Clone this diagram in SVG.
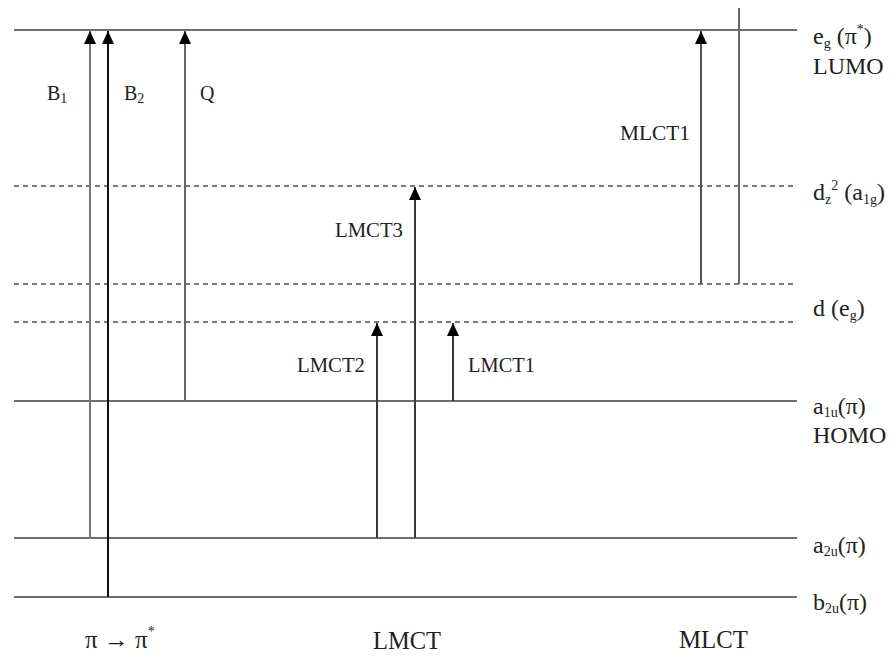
<svg xmlns="http://www.w3.org/2000/svg" width="895" height="657" viewBox="0 0 895 657">
<style>
text{font-family:"Liberation Serif","Times New Roman",serif;fill:#222}
.lvl{stroke:#6e6e6e;stroke-width:2;fill:none}
.dash{stroke:#7a7a7a;stroke-width:2;stroke-dasharray:5 4;fill:none}
.arr{stroke:#3a3a3a;stroke-width:2;fill:none;marker-end:url(#ah)}
.sm{font-size:20px}
.rt{font-size:24px}
.bt{font-size:25px}
.sub{font-size:14px}
</style>
<defs>
<marker id="ah" markerWidth="13" markerHeight="12" refX="13" refY="6" orient="auto" markerUnits="userSpaceOnUse" viewBox="0 0 13 12">
<path d="M0,0 L13,6 L0,12 Z" fill="#000"/>
</marker>
</defs>
<rect width="895" height="657" fill="#fff"/>
<g id="levels">
<line class="lvl" x1="14" y1="30" x2="797" y2="30"/>
<line class="dash" x1="14" y1="186" x2="797" y2="186"/>
<line class="dash" x1="14" y1="284" x2="797" y2="284"/>
<line class="dash" x1="14" y1="322" x2="797" y2="322"/>
<line class="lvl" x1="14" y1="401" x2="797" y2="401"/>
<line class="lvl" x1="14" y1="538" x2="797" y2="538"/>
<line class="lvl" x1="14" y1="597" x2="797" y2="597"/>
</g>
<g id="connectors">
<line class="arr" x1="90" y1="538" x2="90" y2="31" style="stroke:#777"/>
<line class="arr" x1="108" y1="597" x2="108" y2="31" style="stroke:#111"/>
<line class="arr" x1="185" y1="401" x2="185" y2="31" style="stroke:#666"/>
<line class="arr" x1="377" y1="538" x2="377" y2="323"/>
<line class="arr" x1="415" y1="538" x2="415" y2="187"/>
<line class="arr" x1="453" y1="401" x2="453" y2="323"/>
<line class="arr" x1="701" y1="284" x2="701" y2="31" style="stroke:#555"/>
<line x1="739" y1="8" x2="739" y2="284" style="stroke:#666;stroke-width:2"/>
</g>
<g id="transition-labels">
<text class="sm" x="47" y="100">B<tspan class="sub" dy="3">1</tspan></text>
<text class="sm" x="124" y="100">B<tspan class="sub" dy="3">2</tspan></text>
<text class="sm" x="200" y="100">Q</text>
<text class="sm" x="620" y="140" textLength="70" lengthAdjust="spacingAndGlyphs">MLCT1</text>
<text class="sm" x="335" y="237" textLength="68" lengthAdjust="spacingAndGlyphs">LMCT3</text>
<text class="sm" x="297" y="372" textLength="68" lengthAdjust="spacingAndGlyphs">LMCT2</text>
<text class="sm" x="468" y="372" textLength="67" lengthAdjust="spacingAndGlyphs">LMCT1</text>
</g>
<g id="level-labels">
<text class="rt" x="813" y="44">e<tspan class="sub" dy="4">g</tspan><tspan dy="-4"> (π</tspan><tspan class="sub" dy="-10">*</tspan><tspan dy="10">)</tspan></text>
<text class="rt" x="813" y="74">LUMO</text>
<text class="rt" x="813" y="200">d<tspan class="sub" dy="4">z</tspan><tspan class="sub" dy="-14">2</tspan><tspan dy="10"> (a</tspan><tspan class="sub" dy="4">1g</tspan><tspan dy="-4">)</tspan></text>
<text class="rt" x="813" y="316">d (e<tspan class="sub" dy="4">g</tspan><tspan dy="-4">)</tspan></text>
<text class="rt" x="813" y="414">a<tspan class="sub" dy="3">1u</tspan><tspan dy="-3">(π)</tspan></text>
<text class="rt" x="813" y="443">HOMO</text>
<text class="rt" x="813" y="553">a<tspan class="sub" dy="3">2u</tspan><tspan dy="-3">(π)</tspan></text>
<text class="rt" x="813" y="610">b<tspan class="sub" dy="3">2u</tspan><tspan dy="-3">(π)</tspan></text>
</g>
<g id="category-labels">
<text class="bt" x="85" y="648">π → π<tspan class="sub" dy="-12">*</tspan></text>
<text class="bt" x="373" y="649" textLength="68" lengthAdjust="spacingAndGlyphs">LMCT</text>
<text class="bt" x="679" y="648" textLength="69" lengthAdjust="spacingAndGlyphs">MLCT</text>
</g>
</svg>
